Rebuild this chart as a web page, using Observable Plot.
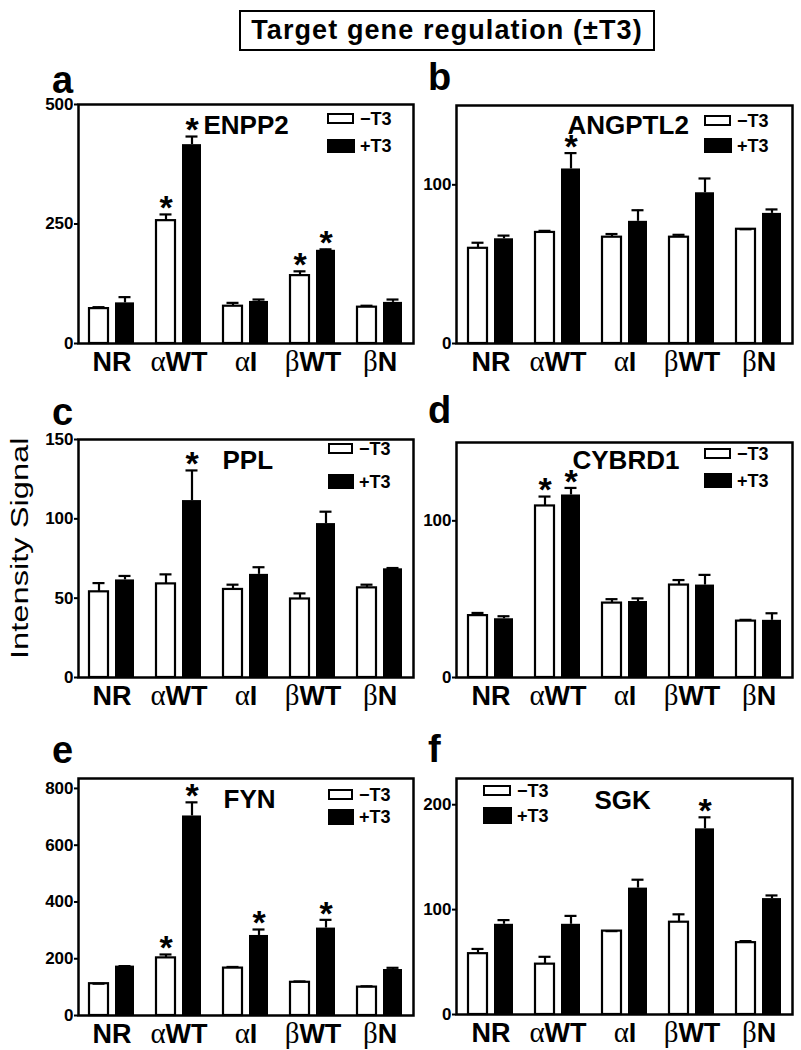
<!DOCTYPE html>
<html>
<head>
<meta charset="utf-8">
<script src="https://cdn.jsdelivr.net/npm/d3@7"></script>
<script src="https://cdn.jsdelivr.net/npm/@observablehq/plot@0.6"></script>
<style>
  html, body { margin: 0; padding: 0; background: #fff; }
  #root { position: relative; width: 801px; height: 1050px; overflow: hidden; font-family: "Liberation Sans", Arial, sans-serif; }
  .abs { position: absolute; line-height: 1; white-space: nowrap; }
  .svgwrap { position: absolute; }
</style>
</head>
<body>
<div id="root"></div>
<script>
// ---------------- DATA ----------------
const groups = ["NR", "αWT", "αI", "βWT", "βN"];
const seriesNames = ["−T3", "+T3"];
const titleText = "Target gene regulation (±T3)";
const yLabelText = "Intensity Signal";

const ENPP2_minus    = [73, 257, 78, 142, 76];
const ENPP2_minusErr = [3, 13, 7, 9, 3];
const ENPP2_plus     = [85, 416, 88, 195, 86];
const ENPP2_plusErr  = [12, 17, 4, 2, 6];
const ENPP2_sigMinus = [0, 1, 0, 1, 0];
const ENPP2_sigPlus  = [0, 1, 0, 1, 0];
const ENPP2_ticks    = [0, 250, 500];

const ANGPTL2_minus    = [60, 70, 67, 67, 72];
const ANGPTL2_minusErr = [3.5, 1, 2, 1.5, 0];
const ANGPTL2_plus     = [66, 110, 77, 95, 82];
const ANGPTL2_plusErr  = [2, 10, 7, 9, 2.5];
const ANGPTL2_sigMinus = [0, 0, 0, 0, 0];
const ANGPTL2_sigPlus  = [0, 1, 0, 0, 0];
const ANGPTL2_ticks    = [0, 100];

const PPL_minus    = [54, 59, 55.5, 49.5, 56.5];
const PPL_minusErr = [5.5, 6, 3, 3.5, 2];
const PPL_plus     = [61.5, 111.5, 65, 97, 68.5];
const PPL_plusErr  = [2.5, 19, 4.5, 7.5, 0.5];
const PPL_sigMinus = [0, 0, 0, 0, 0];
const PPL_sigPlus  = [0, 1, 0, 0, 0];
const PPL_ticks    = [0, 50, 100, 150];

const CYBRD1_minus    = [39.5, 109.5, 47.5, 59, 36];
const CYBRD1_minusErr = [1.7, 6, 2.5, 3.2, 0.8];
const CYBRD1_plus     = [37.5, 116.5, 48.5, 59, 36.5];
const CYBRD1_plusErr  = [1.6, 4.5, 2, 6.5, 4.5];
const CYBRD1_sigMinus = [0, 1, 0, 0, 0];
const CYBRD1_sigPlus  = [0, 1, 0, 0, 0];
const CYBRD1_ticks    = [0, 100];

const FYN_minus    = [112, 203, 167, 117, 100];
const FYN_minusErr = [0, 12, 4, 3, 3];
const FYN_plus     = [174, 703, 282, 308, 162];
const FYN_plusErr  = [0, 48, 21, 29, 6];
const FYN_sigMinus = [0, 1, 0, 0, 0];
const FYN_sigPlus  = [0, 1, 1, 1, 0];
const FYN_ticks    = [0, 200, 400, 600, 800];

const SGK_minus    = [58, 48, 79.5, 88, 68.5];
const SGK_minusErr = [4.5, 7, 0, 7.5, 1.5];
const SGK_plus     = [86, 86, 120.5, 177, 110.5];
const SGK_plusErr  = [4, 8, 8, 11, 3];
const SGK_sigMinus = [0, 0, 0, 0, 0];
const SGK_sigPlus  = [0, 0, 0, 1, 0];
const SGK_ticks    = [0, 100, 200];

// ---------------- LAYOUT ----------------
const FONT = '"Liberation Sans", Arial, Helvetica, sans-serif';
const root = document.getElementById("root");

function addText(text, x, baseline, size, weight, extra) {
  const d = document.createElement("div");
  d.className = "abs";
  d.textContent = text;
  d.style.left = x + "px";
  d.style.top = (baseline - 0.8465 * size) + "px";
  d.style.fontSize = size + "px";
  d.style.fontWeight = weight;
  if (extra) Object.assign(d.style, extra);
  root.appendChild(d);
  return d;
}

// title box
const tb = document.createElement("div");
tb.className = "abs";
Object.assign(tb.style, {
  left: "239px", top: "10px", width: "412px", height: "37px",
  border: "2.5px solid #000", fontWeight: "bold", fontSize: "27px",
  letterSpacing: "1.1px", textAlign: "center", lineHeight: "37px"
});
tb.textContent = titleText;
root.appendChild(tb);

// y label
const yl = document.createElement("div");
yl.className = "abs";
yl.textContent = yLabelText;
Object.assign(yl.style, {
  fontSize: "23px", fontWeight: "normal", left: "0px", top: "0px",
  transformOrigin: "0 0",
  transform: "translate(9px, 659px) rotate(-90deg) scaleX(1.42)"
});
root.appendChild(yl);

function legend(x, yWhite, yBlack, hWhite, hBlack, w) {
  const wb = document.createElement("div");
  wb.className = "abs";
  Object.assign(wb.style, { left: x + "px", top: yWhite + "px", width: (w - 5) + "px", height: (hWhite - 5) + "px", border: "2.5px solid #000", background: "#fff" });
  root.appendChild(wb);
  const bb = document.createElement("div");
  bb.className = "abs";
  Object.assign(bb.style, { left: x + "px", top: yBlack + "px", width: w + "px", height: hBlack + "px", background: "#000" });
  root.appendChild(bb);
  const s = 18;
  const t1 = document.createElement("div");
  t1.className = "abs"; t1.textContent = seriesNames[0];
  Object.assign(t1.style, { left: (x + w + 5) + "px", top: (yWhite + hWhite / 2 - s / 2) + "px", fontSize: s + "px", fontWeight: "bold" });
  root.appendChild(t1);
  const t2 = document.createElement("div");
  t2.className = "abs"; t2.textContent = seriesNames[1];
  Object.assign(t2.style, { left: (x + w + 5) + "px", top: (yBlack + hBlack / 2 - s / 2) + "px", fontSize: s + "px", fontWeight: "bold" });
  root.appendChild(t2);
}

function rows(minus, minusErr, plus, plusErr, sigMinus, sigPlus) {
  const m = groups.map((g, i) => ({ group: g, series: seriesNames[0], value: minus[i], err: minusErr[i], sig: sigMinus[i] }));
  const p = groups.map((g, i) => ({ group: g, series: seriesNames[1], value: plus[i], err: plusErr[i], sig: sigPlus[i] }));
  return [m, p];
}

function panel(cfg) {
  const [m, p] = rows(cfg.minus, cfg.minusErr, cfg.plus, cfg.plusErr, cfg.sigMinus, cfg.sigPlus);
  const top = d => d.value + d.err;
  const chart = Plot.plot({
    width: cfg.width, height: cfg.height,
    marginLeft: cfg.ml, marginRight: cfg.mr, marginTop: cfg.mt, marginBottom: cfg.mb,
    style: { fontFamily: FONT, background: "transparent", overflow: "visible", color: "#000" },
    x: { domain: groups, padding: 0, label: null },
    y: { domain: cfg.domain, label: null },
    marks: [
      Plot.barY(m, { x: "group", y: "value", fill: "white", stroke: "black", strokeWidth: 2.2, insetLeft: 11, insetRight: 37 }),
      Plot.barY(p, { x: "group", y: "value", fill: "black", insetLeft: 37, insetRight: 11 }),
      Plot.ruleX(m, { x: "group", y1: "value", y2: top, dx: -13, strokeWidth: 2.2 }),
      Plot.ruleX(p, { x: "group", y1: "value", y2: top, dx: 13, strokeWidth: 2.2 }),
      Plot.tickY(m, { x: "group", y: top, insetLeft: 14.5, insetRight: 40.5, strokeWidth: 2.2 }),
      Plot.tickY(p, { x: "group", y: top, insetLeft: 40.5, insetRight: 14.5, strokeWidth: 2.2 }),
      Plot.text(m.filter(d => d.sig), { x: "group", y: top, text: () => "*", dx: -13, dy: -6, fontSize: 34, fontWeight: "bold" }),
      Plot.text(p.filter(d => d.sig), { x: "group", y: top, text: () => "*", dx: 13, dy: -6, fontSize: 34, fontWeight: "bold" }),
      Plot.text([cfg.gene], { text: d => d, frameAnchor: "top-left", textAnchor: "start", lineAnchor: "top", dx: cfg.gdx, dy: cfg.gdy, fontSize: 26, fontWeight: "bold" }),
      Plot.axisY({ ticks: cfg.ticks, tickSize: 4, tickPadding: 1, strokeWidth: 2, fontSize: 17, fontWeight: "bold", label: null }),
      Plot.axisX({ tickSize: 0, tickPadding: 8, fontSize: 27, fontWeight: "bold", label: null }),
      Plot.frame({ strokeWidth: 2.5 })
    ]
  });
  // Greek letters in a serif face, as in the original figure
  const ns = "http://www.w3.org/2000/svg";
  chart.querySelectorAll('g[aria-label="x-axis tick label"] text').forEach(t => {
    const s = t.textContent;
    if (/^[αβ]/.test(s)) {
      t.textContent = "";
      const a = document.createElementNS(ns, "tspan");
      a.setAttribute("font-family", '"Liberation Serif", "DejaVu Serif", serif');
      a.setAttribute("font-weight", "normal");
      a.setAttribute("font-size", "29");
      a.textContent = s[0];
      t.appendChild(a);
      t.appendChild(document.createTextNode(s.slice(1)));
    }
  });
  const wrap = document.createElement("div");
  wrap.className = "svgwrap";
  wrap.style.left = cfg.left + "px";
  wrap.style.top = cfg.top + "px";
  wrap.appendChild(chart);
  root.appendChild(wrap);
}

// Panels
panel({ gene: "ENPP2", minus: ENPP2_minus, minusErr: ENPP2_minusErr, plus: ENPP2_plus, plusErr: ENPP2_plusErr, sigMinus: ENPP2_sigMinus, sigPlus: ENPP2_sigPlus,
  domain: [0, 500], ticks: ENPP2_ticks, left: 0, top: 100, width: 420, height: 283, ml: 78, mr: 7, mt: 4, mb: 40, gdx: 125, gdy: 11 });
panel({ gene: "ANGPTL2", minus: ANGPTL2_minus, minusErr: ANGPTL2_minusErr, plus: ANGPTL2_plus, plusErr: ANGPTL2_plusErr, sigMinus: ANGPTL2_sigMinus, sigPlus: ANGPTL2_sigPlus,
  domain: [0, 150], ticks: ANGPTL2_ticks, left: 420, top: 100, width: 381, height: 283, ml: 36, mr: 9, mt: 5, mb: 40, gdx: 111, gdy: 10 });
panel({ gene: "PPL", minus: PPL_minus, minusErr: PPL_minusErr, plus: PPL_plus, plusErr: PPL_plusErr, sigMinus: PPL_sigMinus, sigPlus: PPL_sigPlus,
  domain: [0, 150], ticks: PPL_ticks, left: 0, top: 430, width: 420, height: 287, ml: 78, mr: 7, mt: 9, mb: 40, gdx: 144, gdy: 11 });
panel({ gene: "CYBRD1", minus: CYBRD1_minus, minusErr: CYBRD1_minusErr, plus: CYBRD1_plus, plusErr: CYBRD1_plusErr, sigMinus: CYBRD1_sigMinus, sigPlus: CYBRD1_sigPlus,
  domain: [0, 150], ticks: CYBRD1_ticks, left: 420, top: 430, width: 381, height: 287, ml: 36, mr: 9, mt: 12, mb: 40, gdx: 116, gdy: 8 });
panel({ gene: "FYN", minus: FYN_minus, minusErr: FYN_minusErr, plus: FYN_plus, plusErr: FYN_plusErr, sigMinus: FYN_sigMinus, sigPlus: FYN_sigPlus,
  domain: [0, 835], ticks: FYN_ticks, left: 0, top: 770, width: 420, height: 285, ml: 78, mr: 7, mt: 8, mb: 40, gdx: 145, gdy: 11 });
panel({ gene: "SGK", minus: SGK_minus, minusErr: SGK_minusErr, plus: SGK_plus, plusErr: SGK_plusErr, sigMinus: SGK_sigMinus, sigPlus: SGK_sigPlus,
  domain: [0, 225], ticks: SGK_ticks, left: 420, top: 770, width: 381, height: 284, ml: 36, mr: 9, mt: 8, mb: 40, gdx: 138, gdy: 12 });

// Panel letters
addText("a", 52, 93, 38, "bold");
addText("b", 428, 90, 38, "bold");
addText("c", 52, 425, 38, "bold");
addText("d", 428, 423, 38, "bold");
addText("e", 52, 763, 38, "bold");
addText("f", 428, 762, 38, "bold");

// Legends (−T3 / +T3 keys)
legend(327, 113, 139, 12, 14, 28);
legend(704, 115, 138, 12, 15, 28);
legend(328, 443, 474, 12, 15, 26);
legend(704, 448, 473, 12, 15, 28);
legend(328, 789, 809, 12, 16, 26);
legend(483, 785, 807, 12, 17, 29);
</script>
</body>
</html>
